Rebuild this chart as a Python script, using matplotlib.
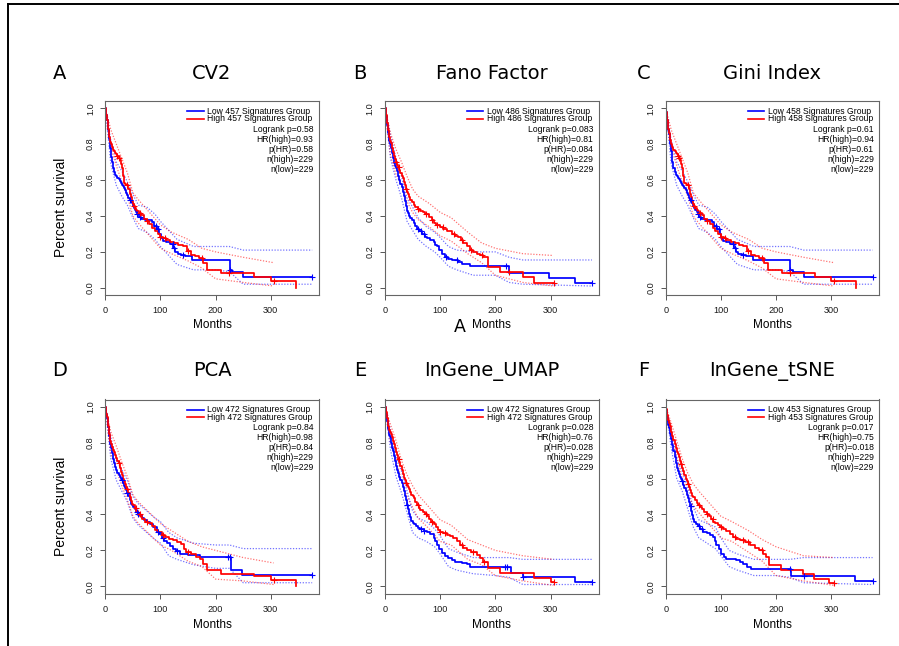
import numpy as np
import matplotlib
matplotlib.use('Agg')
import matplotlib.pyplot as plt
from matplotlib.lines import Line2D

# Kaplan-Meier curves: (month, survival) step points
cv2_low = [(0, 1.0), (1, .98), (2, .96), (3, .935), (4, .91), (5, .88), (6, .855), (7, .83), (8, .80), (9, .78),
           (10, .76), (11, .73), (12, .70), (14, .665), (16, .645), (18, .63), (20, .62), (22, .61), (24, .605),
           (26, .595), (28, .585), (30, .575), (32, .565), (34, .555), (36, .545), (38, .53), (40, .515), (42, .50),
           (44, .49), (46, .48), (48, .47), (50, .455), (52, .445), (54, .435), (56, .42), (58, .41), (61, .395),
           (64, .385), (68, .383), (72, .38), (78, .375), (84, .365), (88, .345), (93, .33), (98, .30), (101, .28),
           (104, .26), (110, .255), (117, .245), (123, .22), (127, .20), (131, .19), (138, .18), (145, .175),
           (158, .155), (226, .10), (230, .09), (250, .061), (375, .061)]
cv2_high = [(0, 1.0), (1, .98), (2, .96), (3, .935), (4, .91), (5, .885), (6, .86), (7, .84), (8, .825), (9, .81),
            (10, .80), (12, .785), (14, .77), (16, .76), (18, .75), (20, .745), (22, .735), (24, .72), (26, .71),
            (28, .69), (30, .665), (32, .62), (34, .585), (36, .58), (38, .575), (40, .57), (42, .55), (44, .525),
            (46, .505), (48, .485), (50, .465), (52, .455), (54, .445), (56, .435), (58, .425), (61, .415), (65, .405),
            (70, .385), (75, .37), (80, .355), (85, .335), (90, .315), (95, .30), (100, .285), (105, .275), (110, .265),
            (118, .255), (125, .248), (132, .24), (140, .23), (148, .205), (155, .185), (162, .175), (170, .165),
            (178, .136), (185, .10), (210, .082), (270, .061), (300, .036), (345, 0.0)]
cv2_low_cens = [45, 58, 62, 92, 96, 122, 125, 140, 226, 375]
cv2_high_cens = [22, 25, 40, 52, 62, 75, 100, 108, 150, 175, 225, 305]

fano_low = [(0, 1.0), (1, .98), (2, .955), (3, .93), (4, .905), (5, .88), (6, .86), (7, .84), (8, .82), (9, .80),
            (10, .78), (12, .75), (14, .72), (16, .695), (18, .68), (20, .665), (22, .65), (24, .625), (26, .60),
            (28, .58), (30, .56), (32, .535), (34, .51), (36, .485), (38, .455), (40, .43), (42, .415), (44, .40),
            (46, .39), (49, .375), (52, .36), (55, .345), (58, .33), (62, .315), (67, .30), (72, .285), (76, .275),
            (82, .265), (88, .255), (91, .24), (94, .23), (98, .21), (103, .19), (109, .173), (115, .16), (121, .155),
            (133, .145), (140, .135), (154, .12), (225, .08), (297, .052), (345, .025), (375, .025)]
fano_high = [(0, 1.0), (1, .98), (2, .96), (3, .94), (4, .92), (5, .90), (6, .88), (7, .86), (8, .84), (9, .82),
             (10, .805), (12, .78), (14, .755), (16, .735), (18, .715), (20, .70), (22, .685), (24, .67), (26, .655),
             (28, .64), (30, .625), (32, .61), (34, .59), (36, .57), (38, .55), (40, .535), (42, .52), (44, .505),
             (46, .49), (49, .475), (52, .46), (55, .45), (59, .44), (64, .43), (68, .42), (73, .41), (79, .395),
             (85, .38), (89, .36), (93, .35), (100, .34), (106, .33), (113, .315), (121, .30), (127, .29), (133, .285),
             (137, .265), (142, .247), (148, .23), (154, .21), (160, .20), (166, .19), (172, .18), (178, .173),
             (187, .117), (209, .09), (250, .058), (270, .028), (307, .028)]
fano_low_cens = [60, 65, 70, 110, 130, 220, 375]
fano_high_cens = [20, 25, 38, 60, 75, 85, 95, 105, 125, 140, 155, 175, 225, 307]

# Gini panel looks the same as CV2
gini_low, gini_high = cv2_low, cv2_high
gini_low_cens, gini_high_cens = cv2_low_cens, cv2_high_cens

pca_low = [(0, 1.0), (1, .98), (2, .96), (3, .935), (4, .91), (5, .885), (6, .86), (7, .835), (8, .81), (9, .79),
           (10, .77), (12, .74), (14, .71), (16, .685), (18, .665), (20, .645), (22, .63), (24, .62), (26, .61),
           (28, .60), (30, .59), (32, .575), (34, .56), (36, .545), (38, .535), (40, .52), (42, .50), (44, .48),
           (46, .46), (48, .45), (50, .44), (53, .43), (56, .415), (59, .405), (62, .395), (66, .38), (70, .37),
           (75, .36), (81, .345), (87, .33), (93, .305), (98, .29), (102, .27), (106, .25), (112, .24), (118, .225),
           (123, .21), (129, .195), (135, .182), (150, .175), (172, .162), (227, .09), (248, .061), (375, .061)]
pca_high = [(0, 1.0), (1, .98), (2, .96), (3, .94), (4, .915), (5, .895), (6, .87), (7, .85), (8, .83), (9, .81),
            (10, .795), (12, .775), (14, .76), (16, .745), (18, .73), (20, .715), (22, .70), (24, .685), (26, .66),
            (28, .635), (30, .62), (32, .60), (34, .585), (36, .57), (38, .555), (40, .54), (42, .52), (44, .495),
            (46, .475), (48, .46), (50, .45), (53, .435), (56, .42), (59, .405), (63, .39), (67, .375), (72, .36),
            (78, .35), (84, .335), (90, .315), (95, .30), (102, .285), (108, .275), (115, .265), (123, .256),
            (130, .245), (137, .235), (142, .21), (147, .19), (155, .18), (165, .164), (172, .15), (178, .126),
            (185, .089), (210, .07), (270, .058), (300, .034), (345, 0.0)]
pca_low_cens = [30, 40, 57, 60, 95, 105, 130, 222, 226, 375]
pca_high_cens = [25, 40, 55, 62, 75, 105, 150, 305]

umap_low = [(0, 1.0), (1, .98), (2, .96), (3, .94), (4, .92), (5, .895), (6, .875), (7, .86), (8, .845), (9, .83),
            (10, .815), (11, .80), (12, .785), (13, .77), (14, .755), (16, .725), (18, .695), (20, .67), (22, .65),
            (24, .63), (26, .61), (28, .59), (30, .575), (32, .555), (34, .53), (36, .505), (38, .48), (40, .455),
            (42, .43), (44, .405), (46, .385), (48, .365), (50, .355), (53, .345), (56, .335), (60, .325), (64, .32),
            (70, .31), (76, .305), (82, .29), (88, .27), (91, .25), (94, .23), (98, .21), (103, .184), (108, .17),
            (115, .156), (121, .145), (127, .137), (140, .13), (148, .125), (154, .11), (229, .074), (250, .052),
            (345, .025), (375, .025)]
umap_high = [(0, 1.0), (1, .985), (2, .97), (3, .95), (4, .935), (5, .915), (6, .895), (7, .88), (8, .87), (9, .86),
             (10, .85), (12, .83), (14, .81), (16, .79), (18, .77), (20, .75), (22, .73), (24, .71), (26, .69),
             (28, .67), (30, .65), (32, .625), (34, .605), (36, .59), (38, .575), (40, .565), (42, .555), (44, .54),
             (46, .525), (48, .51), (50, .50), (52, .49), (55, .47), (58, .45), (61, .435), (64, .425), (68, .415),
             (72, .405), (76, .39), (80, .375), (84, .36), (88, .345), (92, .33), (96, .315), (100, .305), (106, .295),
             (112, .286), (118, .278), (124, .268), (130, .25), (136, .23), (142, .215), (148, .20), (155, .19),
             (166, .175), (172, .16), (178, .137), (186, .104), (209, .075), (270, .049), (300, .024), (307, .024)]
umap_low_cens = [40, 65, 70, 218, 222, 250, 375]
umap_high_cens = [25, 38, 60, 75, 85, 100, 108, 140, 160, 180, 307]

tsne_low = [(0, 1.0), (1, .98), (2, .96), (3, .94), (4, .92), (5, .90), (6, .88), (7, .865), (8, .85), (9, .835),
            (10, .82), (11, .80), (12, .785), (13, .77), (14, .755), (16, .72), (18, .685), (20, .656), (22, .64),
            (24, .625), (26, .61), (28, .595), (30, .585), (32, .565), (34, .545), (36, .53), (38, .51), (40, .49),
            (42, .47), (44, .445), (46, .42), (48, .395), (50, .375), (52, .36), (55, .345), (58, .335), (62, .32),
            (68, .305), (74, .295), (80, .285), (86, .275), (89, .25), (92, .23), (96, .205), (101, .18), (106, .165),
            (110, .154), (128, .145), (134, .135), (140, .126), (147, .11), (155, .099), (227, .06), (343, .028),
            (375, .028)]
tsne_high = [(0, 1.0), (1, .985), (2, .97), (3, .955), (4, .94), (5, .925), (6, .91), (7, .90), (8, .89), (9, .875),
             (10, .86), (12, .835), (14, .815), (16, .79), (18, .77), (20, .75), (22, .735), (24, .72), (26, .70),
             (28, .68), (30, .66), (32, .64), (34, .62), (36, .60), (38, .585), (40, .57), (42, .555), (44, .535),
             (46, .52), (48, .505), (50, .495), (53, .48), (56, .465), (59, .455), (62, .443), (66, .43), (70, .415),
             (74, .405), (78, .39), (82, .375), (86, .36), (90, .35), (94, .34), (98, .33), (104, .32), (110, .31),
             (116, .29), (122, .275), (128, .265), (134, .256), (143, .245), (152, .23), (161, .215), (170, .20),
             (176, .18), (182, .163), (188, .117), (209, .09), (248, .07), (269, .043), (296, .019), (305, .019)]
tsne_low_cens = [30, 45, 60, 65, 225, 250, 375]
tsne_high_cens = [28, 40, 60, 75, 85, 100, 125, 140, 150, 175, 305]

# 95% confidence bands (dotted), read at coarse months
lowci_t = [0, 10, 20, 30, 40, 50, 60, 75, 90, 100, 115, 130, 160, 200, 225, 250, 375]
highci_t = [0, 10, 20, 30, 40, 50, 60, 80, 100, 120, 150, 175, 200, 250, 305]

cv2_low_up = [1.0, 0.82, 0.70, 0.65, 0.59, 0.52, 0.46, 0.45, 0.41, 0.37, 0.32, 0.27, 0.23, 0.23, 0.23, 0.21, 0.21]
cv2_low_dn = [1.0, 0.69, 0.57, 0.51, 0.46, 0.39, 0.33, 0.31, 0.27, 0.23, 0.18, 0.13, 0.10, 0.10, 0.09, 0.02, 0.02]
cv2_high_up = [1.0, 0.88, 0.80, 0.72, 0.64, 0.53, 0.49, 0.42, 0.35, 0.31, 0.27, 0.22, 0.20, 0.17, 0.14]
cv2_high_dn = [1.0, 0.78, 0.68, 0.59, 0.51, 0.40, 0.36, 0.29, 0.22, 0.19, 0.15, 0.11, 0.05, 0.03, 0.01]
gini_low_up, gini_low_dn = cv2_low_up, cv2_low_dn
gini_high_up, gini_high_dn = cv2_high_up, cv2_high_dn

pca_low_up = [1.0, 0.83, 0.70, 0.65, 0.59, 0.50, 0.46, 0.42, 0.38, 0.36, 0.30, 0.27, 0.24, 0.23, 0.23, 0.21, 0.21]
pca_low_dn = [1.0, 0.71, 0.59, 0.53, 0.47, 0.38, 0.34, 0.30, 0.26, 0.24, 0.17, 0.15, 0.12, 0.10, 0.10, 0.02, 0.02]
pca_high_up = [1.0, 0.86, 0.78, 0.69, 0.61, 0.51, 0.47, 0.41, 0.35, 0.31, 0.25, 0.22, 0.20, 0.16, 0.13]
pca_high_dn = [1.0, 0.74, 0.65, 0.56, 0.48, 0.39, 0.35, 0.29, 0.23, 0.20, 0.14, 0.11, 0.04, 0.03, 0.01]

fano_low_up = [1.0, 0.85, 0.72, 0.62, 0.50, 0.45, 0.39, 0.34, 0.31, 0.28, 0.23, 0.21, 0.20, 0.20, 0.17, 0.155, 0.155]
fano_low_dn = [1.0, 0.72, 0.60, 0.50, 0.37, 0.32, 0.27, 0.23, 0.20, 0.17, 0.12, 0.10, 0.07, 0.07, 0.03, 0.02, 0.01]
fano_high_up = [1.0, 0.86, 0.77, 0.70, 0.62, 0.55, 0.51, 0.47, 0.42, 0.39, 0.31, 0.25, 0.22, 0.19, 0.18]
fano_high_dn = [1.0, 0.74, 0.63, 0.57, 0.48, 0.42, 0.38, 0.34, 0.29, 0.26, 0.19, 0.14, 0.07, 0.03, 0.01]

umap_low_up = [1.0, 0.87, 0.72, 0.64, 0.53, 0.42, 0.38, 0.36, 0.32, 0.28, 0.21, 0.19, 0.16, 0.16, 0.16, 0.15, 0.15]
umap_low_dn = [1.0, 0.76, 0.61, 0.52, 0.41, 0.30, 0.27, 0.25, 0.22, 0.18, 0.11, 0.09, 0.07, 0.06, 0.05, 0.01, 0.01]
umap_high_up = [1.0, 0.90, 0.81, 0.70, 0.62, 0.56, 0.51, 0.44, 0.37, 0.34, 0.26, 0.23, 0.20, 0.17, 0.15]
umap_high_dn = [1.0, 0.80, 0.70, 0.59, 0.50, 0.44, 0.38, 0.32, 0.25, 0.23, 0.15, 0.12, 0.06, 0.03, 0.005]

tsne_low_up = [1.0, 0.87, 0.71, 0.64, 0.55, 0.44, 0.37, 0.35, 0.33, 0.27, 0.20, 0.18, 0.15, 0.15, 0.15, 0.16, 0.16]
tsne_low_dn = [1.0, 0.77, 0.60, 0.53, 0.43, 0.33, 0.27, 0.24, 0.21, 0.17, 0.11, 0.09, 0.06, 0.06, 0.05, 0.02, 0.01]
tsne_high_up = [1.0, 0.91, 0.81, 0.71, 0.63, 0.57, 0.53, 0.46, 0.39, 0.36, 0.31, 0.26, 0.22, 0.17, 0.16]
tsne_high_dn = [1.0, 0.82, 0.72, 0.60, 0.51, 0.45, 0.41, 0.34, 0.27, 0.25, 0.19, 0.14, 0.06, 0.03, 0.005]

panel_titles = ['CV2', 'Fano Factor', 'Gini Index', 'PCA', 'InGene_UMAP', 'InGene_tSNE']
panel_letters = ['A', 'B', 'C', 'D', 'E', 'F']
sig_counts = [457, 486, 458, 472, 472, 453]
logrank_p = ['0.58', '0.083', '0.61', '0.84', '0.028', '0.017']
hr_high = ['0.93', '0.81', '0.94', '0.98', '0.76', '0.75']
p_hr = ['0.58', '0.084', '0.61', '0.84', '0.028', '0.018']
n_high = [229, 229, 229, 229, 229, 229]
n_low = [229, 229, 229, 229, 229, 229]

panels = [
    (cv2_low, cv2_high, cv2_low_cens, cv2_high_cens, cv2_low_up, cv2_low_dn, cv2_high_up, cv2_high_dn),
    (fano_low, fano_high, fano_low_cens, fano_high_cens, fano_low_up, fano_low_dn, fano_high_up, fano_high_dn),
    (gini_low, gini_high, gini_low_cens, gini_high_cens, gini_low_up, gini_low_dn, gini_high_up, gini_high_dn),
    (pca_low, pca_high, pca_low_cens, pca_high_cens, pca_low_up, pca_low_dn, pca_high_up, pca_high_dn),
    (umap_low, umap_high, umap_low_cens, umap_high_cens, umap_low_up, umap_low_dn, umap_high_up, umap_high_dn),
    (tsne_low, tsne_high, tsne_low_cens, tsne_high_cens, tsne_low_up, tsne_low_dn, tsne_high_up, tsne_high_dn),
]


def km_at(t, s, x):
    idx = np.searchsorted(np.array(t), np.array(x), side='right') - 1
    return np.array(s)[idx]


W, H = 899, 646
fig = plt.figure(figsize=(W / 100, H / 100), dpi=100)
fig.patch.set_facecolor('white')

rfont = ['Liberation Sans', 'DejaVu Sans']
BLUE = '#0000FF'
RED = '#FF0000'
DOT = (0, (1, 1.3))
col_left = [105.3, 385.0, 665.7]
row_top = [101.0, 399.5]
ax_w, ax_h = 213.5, 194.0
letter_x = [60, 360, 644]
title_base = [79, 376]
ylab_y = [207, 506]
months_base = [328.5, 627.5]

for i, p in enumerate(panels):
    low, high, lc, hc, lup, ldn, hup, hdn = p
    lt, ls = zip(*low)
    ht, hs = zip(*high)
    r, c = divmod(i, 3)
    L, T = col_left[c], row_top[r]
    ax = fig.add_axes([L / W, 1 - (T + ax_h) / H, ax_w / W, ax_h / H])

    # confidence bands
    ax.plot(lowci_t, lup, color=BLUE, alpha=0.55, lw=0.9, ls=DOT)
    ax.plot(lowci_t, ldn, color=BLUE, alpha=0.55, lw=0.9, ls=DOT)
    ax.plot(highci_t, hup, color=RED, alpha=0.55, lw=0.9, ls=DOT)
    ax.plot(highci_t, hdn, color=RED, alpha=0.55, lw=0.9, ls=DOT)

    # survival curves
    ax.step(lt, ls, where='post', color=BLUE, lw=1.25)
    ax.step(ht, hs, where='post', color=RED, lw=1.25)
    ax.plot(lc, km_at(lt, ls, lc), ls='none', marker='+', ms=4, mew=0.8, color=BLUE)
    ax.plot(hc, km_at(ht, hs, hc), ls='none', marker='+', ms=4, mew=0.8, color=RED)

    ax.set_xlim(0, 387)
    ax.set_ylim(-0.04, 1.04)
    ax.set_xticks([0, 100, 200, 300])
    ax.set_yticks([0.0, 0.2, 0.4, 0.6, 0.8, 1.0])
    ax.set_xticklabels(['0', '100', '200', '300'], family=rfont, fontsize=6.6)
    ax.set_yticklabels(['0.0', '0.2', '0.4', '0.6', '0.8', '1.0'], family=rfont,
                       fontsize=6.6, rotation=90, va='center')
    ax.tick_params(axis='both', direction='out', length=3.6, width=0.7,
                   color='#555555', labelcolor='#1a1a1a')
    ax.tick_params(axis='x', pad=4.6)
    ax.tick_params(axis='y', pad=3.8)
    for sp in ax.spines.values():
        sp.set_color('#666666')
        sp.set_linewidth(0.8)

    # legend + statistics
    for yy, col, lab in [(0.948, BLUE, 'Low'), (0.909, RED, 'High')]:
        ax.plot([0.384, 0.461], [yy, yy], transform=ax.transAxes, color=col, lw=1.2)
        ax.text(0.477, yy, '%s %d Signatures Group' % (lab, sig_counts[i]),
                transform=ax.transAxes, va='center', ha='left', fontsize=6.2, family=rfont)
    stats = ['Logrank p=' + logrank_p[i], 'HR(high)=' + hr_high[i],
             'p(HR)=' + p_hr[i], 'n(high)=%d' % n_high[i], 'n(low)=%d' % n_low[i]]
    for k, s in enumerate(stats):
        ax.text(0.975, 0.854 - 0.0515 * k, s, transform=ax.transAxes,
                va='center', ha='right', fontsize=6.2, family=rfont)

    cx = (L + ax_w / 2) / W
    fig.text(cx, 1 - months_base[r] / H, 'Months', ha='center', va='baseline',
             fontsize=8.5, family=rfont)
    if c == 0:
        fig.text(60.7 / W, 1 - ylab_y[r] / H, 'Percent survival', rotation=90,
                 ha='center', va='center', fontsize=10, family=rfont)

    fig.text(cx, 1 - title_base[r] / H, panel_titles[i], ha='center', va='baseline', fontsize=14)
    fig.text(letter_x[c] / W, 1 - title_base[r] / H, panel_letters[i], ha='center',
             va='baseline', fontsize=14)

# stray label under panel B
fig.text(460 / W, 1 - 332.5 / H, 'A', ha='center', va='baseline', fontsize=12.5)

# frame lines at top and left
fig.add_artist(Line2D([8.3 / W, 1.0], [1 - 4.3 / H, 1 - 4.3 / H], transform=fig.transFigure,
                      color='black', lw=1.4))
fig.add_artist(Line2D([8.3 / W, 8.3 / W], [0.0, 1 - 4.3 / H], transform=fig.transFigure,
                      color='black', lw=1.4))

fig.savefig('out.png', dpi=100)
